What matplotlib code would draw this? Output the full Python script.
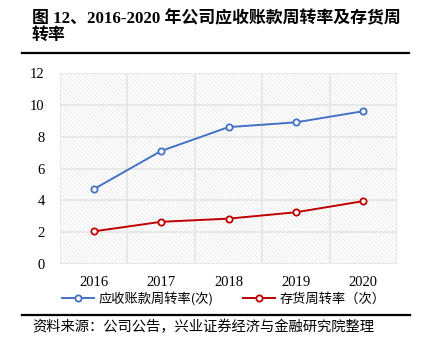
import matplotlib
matplotlib.use('Agg')
import matplotlib.pyplot as plt
from matplotlib.patches import Rectangle
from matplotlib.lines import Line2D

# data
years = ['2016', '2017', '2018', '2019', '2020']
receivable_turnover = [4.7, 7.1, 8.6, 8.9, 9.6]
inventory_turnover = [2.05, 2.65, 2.85, 3.25, 3.95]
label_receivable = '应收账款周转率(次)'
label_inventory = '存货周转率（次）'
title_line1 = '图 12、2016-2020 年公司应收账款周转率及存货周'
title_line2 = '转率'
source_text = '资料来源：公司公告，兴业证券经济与金融研究院整理'

serif_cjk = ['Liberation Serif', 'Noto Sans CJK SC']
plt.rcParams['font.family'] = serif_cjk
plt.rcParams['hatch.color'] = '#e2e2e2'
plt.rcParams['hatch.linewidth'] = 0.5

fig = plt.figure(figsize=(4.22, 3.46), dpi=100)
ax = fig.add_axes([60 / 422, 82 / 346, 337 / 422, 191 / 346])

# hatched plot area
ax.patch.set_visible(False)
bg = Rectangle((0, 0), 1, 1, transform=ax.transAxes, facecolor='white',
               edgecolor='#e2e2e2', lw=0, hatch='\\' * 8, zorder=0)
ax.add_patch(bg)

x = list(range(len(years)))
ax.plot(x, receivable_turnover, color='#4472C4', lw=1.4, marker='o', ms=4.5,
        mfc='white', mec='#4472C4', mew=1.3, zorder=3)
ax.plot(x, inventory_turnover, color='#C00000', lw=1.4, marker='o', ms=4.5,
        mfc='white', mec='#C00000', mew=1.3, zorder=3)

ax.set_xlim(-0.5, 4.5)
ax.set_ylim(0, 12)
ax.set_yticks(range(0, 13, 2))
ax.set_xticks(x)
ax.set_xticklabels(years)
ax.set_xticks([i - 0.5 for i in range(6)] + x, minor=True)

ax.grid(axis='y', which='major', color='#e6e6e6', lw=1.3, zorder=1)
ax.grid(axis='x', which='minor', color='#e6e6e6', lw=1.3, zorder=1)
ax.set_axisbelow(True)
for s in ax.spines.values():
    s.set_visible(False)
ax.tick_params(axis='both', which='both', length=0, labelsize=10.5)
ax.tick_params(axis='y', pad=11)
ax.tick_params(axis='x', pad=9)

handles = [
    Line2D([], [], color='#4472C4', lw=1.4, marker='o', ms=4.5, mfc='white', mec='#4472C4', mew=1.3),
    Line2D([], [], color='#C00000', lw=1.4, marker='o', ms=4.5, mfc='white', mec='#C00000', mew=1.3),
]
fig.legend(handles, [label_receivable, label_inventory], loc='center',
           bbox_to_anchor=(224 / 422, 1 - 299 / 346), ncol=2, frameon=False,
           prop={'family': ['Noto Sans CJK SC'], 'size': 9.5},
           handlelength=2.4, handletextpad=0.4, columnspacing=2.2)

# title and source
fig.text(32 / 422, 1 - 18.5 / 346, title_line1, fontsize=12.2, fontweight='bold',
         family=serif_cjk, va='center', ha='left')
fig.text(32 / 422, 1 - 36 / 346, title_line2, fontsize=12.2, fontweight='bold',
         family=serif_cjk, va='center', ha='left')
fig.add_artist(Line2D([22 / 422, 409 / 422], [1 - 53 / 346, 1 - 53 / 346],
                      color='black', lw=1.6, transform=fig.transFigure))
fig.add_artist(Line2D([22 / 422, 410 / 422], [1 - 315 / 346, 1 - 315 / 346],
                      color='black', lw=1.6, transform=fig.transFigure))
fig.text(32 / 422, 1 - 327 / 346, source_text, fontsize=10.3,
         family=['Noto Sans CJK SC'], va='center', ha='left')

fig.savefig('out.png', dpi=100)
